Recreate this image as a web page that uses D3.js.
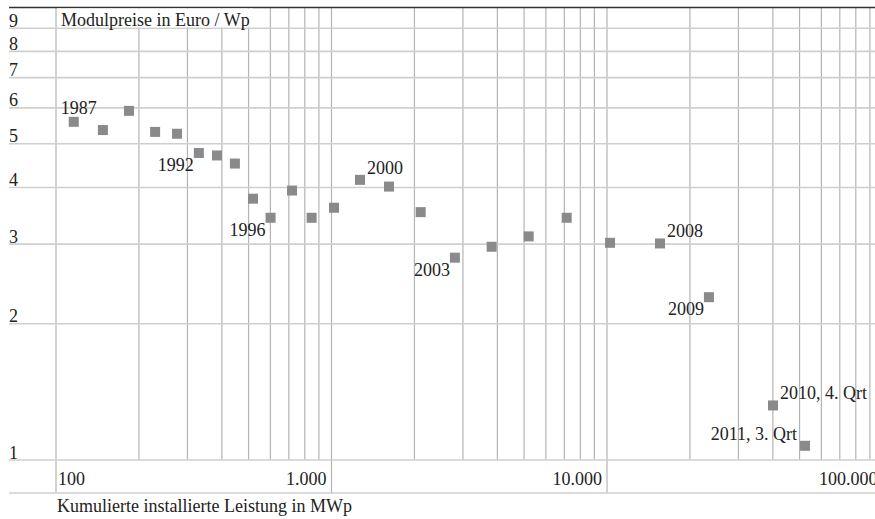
<!DOCTYPE html>
<html>
<head>
<meta charset="utf-8">
<script src="https://cdn.jsdelivr.net/npm/d3@7"></script>
<style>
  body { margin: 0; background: #fff; }
  svg text { font-family: "Liberation Serif", "Times New Roman", serif; font-size: 18px; fill: #222; }
</style>
</head>
<body>
<div class="chart"></div>
<script>
// kumulierte Leistung (MWp) und Modulpreis (Euro/Wp), 1987 .. 2011
var years = ['1987','1988','1989','1990','1991','1992','1993','1994','1995','1996','1997','1998','1999',
             '2000','2001','2002','2003','2004','2005','2006','2007','2008','2009','2010, 4. Qrt','2011, 3. Qrt'];
var capacity = [116, 148, 184, 229, 275, 330, 384, 446, 519, 601, 719, 847, 1021,
                1269, 1617, 2107, 2805, 3814, 5196, 7140, 10257, 15572, 23440, 40040, 52330];
var price = [5.59, 5.36, 5.91, 5.31, 5.26, 4.77, 4.71, 4.52, 3.78, 3.43, 3.94, 3.43, 3.61,
             4.16, 4.02, 3.53, 2.80, 2.96, 3.12, 3.43, 3.02, 3.01, 2.29, 1.32, 1.075];
var labelled = {'1987':'above', '1992':'belowLeft', '1996':'belowLeft', '2000':'aboveRight',
                '2003':'belowLeft', '2008':'aboveRight', '2009':'belowLeft',
                '2010, 4. Qrt':'aboveRight', '2011, 3. Qrt':'aboveLeft'};
var xTicks = [100, 1000, 10000, 100000];
var xTickLabels = ['100', '1.000', '10.000', '100.000'];
var yTicks = [1, 2, 3, 4, 5, 6, 7, 8, 9];

var w = 875, h = 519;
var plotLeft = 9, plotRight = 875, plotTop = 7.5, plotBottom = 460, axisBand = 493;

var svg = d3.select('.chart').append('svg')
    .attr('width', w)
    .attr('height', h);

var x = d3.scaleLog().domain([100, 100000]).range([56, 882.5]);
var y = d3.scaleLog().domain([1, 10]).range([plotBottom, plotTop]);

// vertical grid: 100 .. 100000 incl. minor steps
var xGrid = [];
[100, 1000, 10000].forEach(function(d){
    for (var k = 1; k < 10; k++) xGrid.push(d * k);
});
xGrid.push(100000);
svg.append('g').selectAll('line')
    .data(xGrid.filter(function(d){ return x(d) <= plotRight; }))
    .enter().append('line')
    .attr('x1', function(d){ return x(d); })
    .attr('x2', function(d){ return x(d); })
    .attr('y1', plotTop)
    .attr('y2', function(d){ return xTicks.indexOf(d) >= 0 ? axisBand : plotBottom; })
    .style('stroke', '#b4b4b4')
    .style('stroke-width', 1.2);

// horizontal grid
svg.append('g').selectAll('line')
    .data(yTicks)
    .enter().append('line')
    .attr('x1', plotLeft)
    .attr('x2', plotRight)
    .attr('y1', function(d){ return y(d); })
    .attr('y2', function(d){ return y(d); })
    .style('stroke', '#cfcfcf')
    .style('stroke-width', 1.6);

svg.append('line')
    .attr('x1', plotLeft).attr('x2', plotRight)
    .attr('y1', axisBand).attr('y2', axisBand)
    .style('stroke', '#cfcfcf')
    .style('stroke-width', 1.6);

svg.append('line')
    .attr('x1', plotLeft).attr('x2', plotRight)
    .attr('y1', y(10)).attr('y2', y(10))
    .style('stroke', '#333')
    .style('stroke-width', 1.6);

// title box covers the grid
svg.append('rect')
    .attr('x', 57).attr('y', y(10) + 1)
    .attr('width', 196).attr('height', y(9) - y(10) - 2)
    .style('fill', '#fff');
svg.append('text')
    .attr('x', 61).attr('y', 26)
    .text('Modulpreise in Euro / Wp');

// y tick labels sit just above their line
svg.append('g').selectAll('text')
    .data(yTicks)
    .enter().append('text')
    .attr('x', plotLeft)
    .attr('y', function(d){ return y(d) - 1.5; })
    .text(function(d){ return d; });

// x tick labels
svg.append('g').selectAll('text')
    .data(xTicks)
    .enter().append('text')
    .attr('x', function(d, i){ return i === 0 ? x(d) + 2 : x(d) - 5; })
    .attr('y', 485)
    .attr('text-anchor', function(d, i){ return i === 0 ? 'start' : 'end'; })
    .text(function(d, i){ return xTickLabels[i]; });

svg.append('text')
    .attr('x', 57).attr('y', 512)
    .text('Kumulierte installierte Leistung in MWp');

// points
var pts = years.map(function(d, i){ return {year: d, cap: capacity[i], price: price[i]}; });
var s = 10;
svg.append('g').selectAll('rect')
    .data(pts)
    .enter().append('rect')
    .attr('x', function(d){ return x(d.cap) - s / 2; })
    .attr('y', function(d){ return y(d.price) - s / 2; })
    .attr('width', s)
    .attr('height', s)
    .style('fill', '#8a8a8c');

var place = {
    above:      {dx: -13, dy: -8,  anchor: 'start'},
    belowLeft:  {dx: -5,  dy: 18,  anchor: 'end'},
    aboveRight: {dx: 7,   dy: -6,  anchor: 'start'},
    aboveLeft:  {dx: -8,  dy: -6,  anchor: 'end'}
};
svg.append('g').selectAll('text')
    .data(pts.filter(function(d){ return labelled[d.year]; }))
    .enter().append('text')
    .attr('x', function(d){ return x(d.cap) + place[labelled[d.year]].dx; })
    .attr('y', function(d){ return y(d.price) + place[labelled[d.year]].dy; })
    .attr('text-anchor', function(d){ return place[labelled[d.year]].anchor; })
    .text(function(d){ return d.year; });
</script>
</body>
</html>
